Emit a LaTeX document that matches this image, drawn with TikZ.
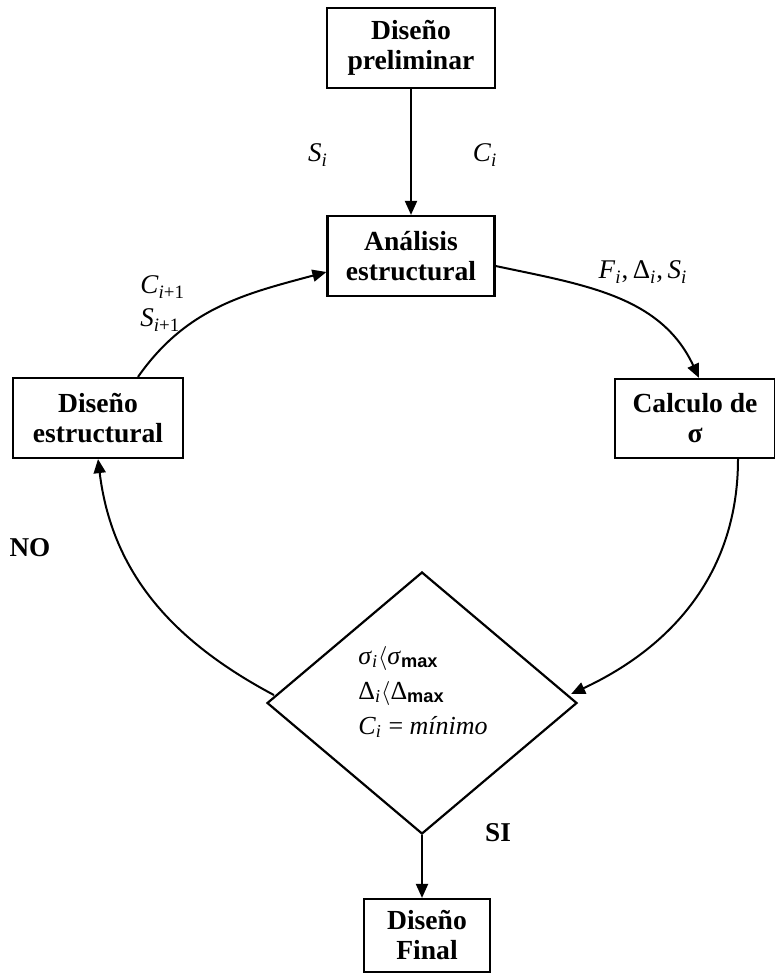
\documentclass[tikz,border=0pt]{standalone}
\usepackage{fontspec}
\setmainfont{Liberation Serif}
\newfontfamily\arialf{Liberation Sans}
\usetikzlibrary{arrows.meta,shapes.geometric}
\newcommand{\vsub}[2]{\textit{#1}\textsubscript{\textit{#2}}}
\begin{document}
\begin{tikzpicture}[x=0.5pt,y=-0.5pt,
  box/.style={draw, line width=1.1pt, align=center, font=\fontsize{13.8}{15}\selectfont\bfseries, inner sep=0pt},
  lbl/.style={font=\fontsize{13.5}{15}\selectfont, inner sep=0pt},
  blbl/.style={font=\fontsize{13.6}{15}\selectfont\bfseries, inner sep=0pt},
  arr/.style={line width=1pt, -{Triangle[length=7pt,width=6pt]}}]
\useasboundingbox (0,0) rectangle (775,973);
\node[box, minimum width=84pt, minimum height=40pt] (pre) at (411,48) {Diseño\\preliminar};
\node[box, minimum width=83.5pt, minimum height=40pt] (ana) at (411,256) {Análisis\\estructural};
\node[box, minimum width=85pt, minimum height=40pt] (est) at (98,418) {Diseño\\estructural};
\node[box, minimum width=80pt, minimum height=39.5pt] (cal) at (695,418.5) {Calculo de\\σ};
\node[box, minimum width=63pt, minimum height=36.5pt] (fin) at (427,935.5) {Diseño\\Final};
\node[draw, diamond, line width=1.1pt, minimum width=155pt, minimum height=131pt, inner sep=0pt] (dec) at (422,703) {};
\node[align=left, anchor=west, inner sep=0pt, font=\fontsize{13}{17.5}\selectfont] (cond) at (358,692)
  {\textit{σ}\textsubscript{\textit{i}}$\langle$\textit{σ}\textsubscript{\arialf\bfseries max}\\
   Δ\textsubscript{\textit{i}}$\langle$Δ\textsubscript{\arialf\bfseries max}\\
   \textit{C}\textsubscript{\textit{i}} = \textit{mínimo}};
% connectors
\draw[arr] (pre.south) -- (pre.south |- ana.north);
\draw[arr] ([yshift=-5pt]ana.east) to[out=-12,in=115] ([xshift=2pt]cal.north);
\draw[arr] ([xshift=21.5pt]cal.south) to[out=-90,in=25] ([xshift=-3.5pt,yshift=4.5pt]dec.east);
\draw[arr] ([xshift=4pt,yshift=4pt]dec.west) to[out=152,in=-83] (est.south);
\draw[arr] ([xshift=20pt]est.north) to[out=55,in=195] ([yshift=-8pt]ana.west);
\draw[arr] (dec.south) -- (dec.south |- fin.north);
% labels
\node[lbl] (si) at (318,155) {\vsub{S}{i}};
\node[lbl] (ci) at (485,155) {\vsub{C}{i}};
\node[lbl, anchor=west] (ci1) at (140,287) {\textit{C}\textsubscript{\textit{i}+1}};
\node[lbl, anchor=west] (si1) at (140,320) {\textit{S}\textsubscript{\textit{i}+1}};
\node[lbl] (fds) at (643,272) {\vsub{F}{i},\,Δ\textsubscript{\textit{i}},\,\vsub{S}{i}};
\node[blbl] (no) at (30,548) {NO};
\node[blbl] (siy) at (498,833) {SI};
\end{tikzpicture}
\end{document}
